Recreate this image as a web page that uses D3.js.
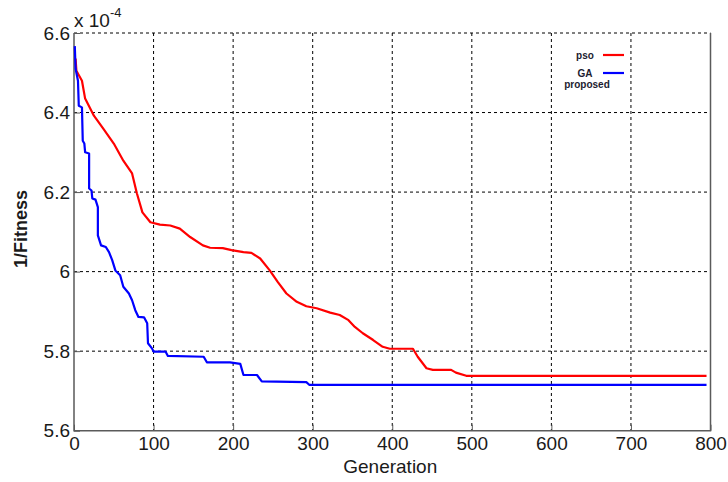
<!DOCTYPE html>
<html>
<head>
<meta charset="utf-8">
<script src="https://cdn.jsdelivr.net/npm/d3@7"></script>
<style>
  html, body { margin: 0; padding: 0; background: #fff; }
  svg { display: block; font-family: "Liberation Sans", Arial, sans-serif; }
</style>
</head>
<body>
<div id="chart"></div>
<script>
// pso curve (generation, 1/fitness in units of 1e-4)
const psoGen = [2, 3, 10, 14, 25, 37, 50, 62, 73, 79, 86, 96, 108, 121, 133, 146, 162, 171, 187, 198,
  213, 223, 234, 246, 256, 267, 280, 292, 305, 322, 334, 345, 353, 363, 376, 388, 397, 426, 432, 443,
  451, 474, 480, 493, 795];
const psoVal = [6.536, 6.505, 6.48, 6.435, 6.392, 6.359, 6.322, 6.279, 6.247, 6.197, 6.149, 6.124, 6.118, 6.116, 6.108, 6.087, 6.066, 6.060, 6.059, 6.054,
  6.049, 6.047, 6.033, 6.003, 5.974, 5.945, 5.924, 5.913, 5.908, 5.897, 5.891, 5.878, 5.861, 5.845, 5.828, 5.811, 5.806, 5.806, 5.786, 5.757,
  5.753, 5.753, 5.746, 5.738, 5.738];

// GA proposed curve
const gaGen = [1, 2, 5, 6, 10, 11, 13, 14, 19, 19, 22, 23, 27, 30, 30, 34, 40, 44, 48, 52,
  58, 62, 69, 73, 77, 81, 88, 92, 93, 98, 100, 115, 118, 163, 167, 196, 209, 213, 230, 236,
  292, 296, 795];
const gaVal = [6.567, 6.51, 6.48, 6.417, 6.413, 6.329, 6.322, 6.30, 6.297, 6.209, 6.204, 6.184, 6.181, 6.162, 6.091, 6.066, 6.062, 6.049, 6.029, 6.003,
  5.991, 5.962, 5.945, 5.928, 5.903, 5.886, 5.885, 5.870, 5.820, 5.807, 5.799, 5.799, 5.788, 5.786, 5.772, 5.772, 5.768, 5.740, 5.740, 5.724,
  5.722, 5.715, 5.715];

const xTicks = [0, 100, 200, 300, 400, 500, 600, 700, 800];
const yTicks = [5.6, 5.8, 6.0, 6.2, 6.4, 6.6];
const yTickLabels = ['5.6', '5.8', '6', '6.2', '6.4', '6.6'];
const legendNames = ['pso', 'GA'];
const legendColors = ['#ff0000', '#0000ff'];

const width = 728, height = 482;
const plotLeft = 74, plotRight = 710.5, plotTop = 33, plotBottom = 430.7;

const svg = d3.select('#chart').append('svg')
  .attr('width', width)
  .attr('height', height);

svg.append('rect').attr('width', width).attr('height', height).attr('fill', '#fff');

const x = d3.scaleLinear().domain([0, 800]).range([plotLeft, plotRight]);
const y = d3.scaleLinear().domain([5.6, 6.6]).range([plotBottom, plotTop]);

// grid
const grid = svg.append('g').attr('stroke', '#000').attr('stroke-width', 1).attr('stroke-dasharray', '3,3');
grid.selectAll('.vg').data(xTicks.slice(1, -1)).enter().append('line')
  .attr('x1', d => x(d)).attr('x2', d => x(d))
  .attr('y1', plotTop).attr('y2', plotBottom);
grid.selectAll('.hg').data(yTicks.slice(1)).enter().append('line')
  .attr('x1', plotLeft).attr('x2', plotRight)
  .attr('y1', d => y(d)).attr('y2', d => y(d));

// box (left, bottom, right)
svg.append('path')
  .attr('d', `M${plotLeft},${plotTop}V${plotBottom}H${plotRight}V${plotTop}`)
  .attr('fill', 'none').attr('stroke', '#5a5a5a').attr('stroke-width', 1.5);

// axes
const xAxis = d3.axisBottom(x).tickValues(xTicks).tickSizeInner(-6).tickSizeOuter(0).tickPadding(6);
const yAxis = d3.axisLeft(y).tickValues(yTicks).tickSizeInner(-6).tickSizeOuter(0).tickPadding(4)
  .tickFormat((d, i) => yTickLabels[i]);

const gx = svg.append('g').attr('transform', `translate(0,${plotBottom})`).call(xAxis);
const gy = svg.append('g').attr('transform', `translate(${plotLeft},0)`).call(yAxis);

[gx, gy].forEach(g => {
  g.select('.domain').remove();
  g.selectAll('.tick line').attr('stroke', '#5a5a5a').attr('stroke-width', 1);
  g.selectAll('.tick text')
    .attr('fill', '#1a1a1a')
    .style('font-size', '19px')
    .style('font-family', '"Liberation Sans", Arial, sans-serif');
});

// exponent
const ex = svg.append('text').attr('x', 74).attr('y', 27).attr('fill', '#1a1a1a').style('font-size', '19px');
ex.append('tspan').text('x 10');
ex.append('tspan').attr('dy', -10).style('font-size', '13px').text('-4');

// axis titles
svg.append('text')
  .attr('x', x(400) - 2).attr('y', 473)
  .attr('text-anchor', 'middle').attr('fill', '#1a1a1a')
  .style('font-size', '19px')
  .text('Generation');

svg.append('text')
  .attr('transform', 'translate(27,229) rotate(-90)')
  .attr('text-anchor', 'middle').attr('fill', '#1a1a1a')
  .style('font-size', '18px').style('font-weight', 'bold')
  .text('1/Fitness');

// curves
const line = d3.line().x(d => x(d[0])).y(d => y(d[1]));
const psoData = psoGen.map((g, i) => [g, psoVal[i]]);
const gaData = gaGen.map((g, i) => [g, gaVal[i]]);

svg.append('path').datum(psoData)
  .attr('d', line).attr('fill', 'none')
  .attr('stroke', legendColors[0]).attr('stroke-width', 2.2).attr('stroke-linejoin', 'round');
svg.append('path').datum(gaData)
  .attr('d', line).attr('fill', 'none')
  .attr('stroke', legendColors[1]).attr('stroke-width', 2.2).attr('stroke-linejoin', 'round');

// legend
const lg = svg.append('g')
  .style('font-family', '"Liberation Sans Narrow", "Liberation Sans", Arial, sans-serif')
  .style('font-size', '10px').style('font-weight', 'bold').attr('fill', '#1c1c30');
const rowY = [55, 73];
legendNames.forEach((name, i) => {
  lg.append('text').attr('x', 585).attr('y', rowY[i] + 3.5).attr('text-anchor', 'middle').text(name);
  lg.append('line')
    .attr('x1', 603).attr('x2', 624).attr('y1', rowY[i]).attr('y2', rowY[i])
    .attr('stroke', legendColors[i]).attr('stroke-width', 2.2);
});
lg.append('text').attr('x', 587).attr('y', 88).attr('text-anchor', 'middle').text('proposed');
</script>
</body>
</html>
